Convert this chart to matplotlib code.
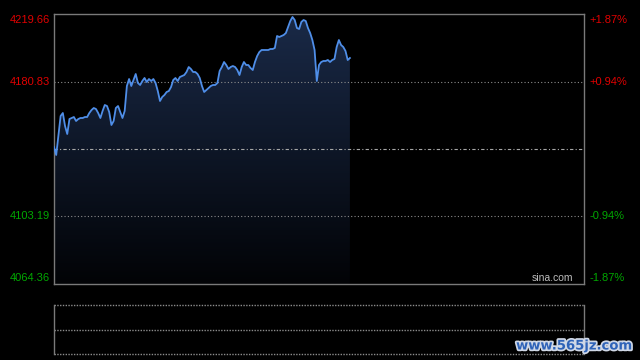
"""Intraday index chart in the Sina minute-chart style (dark theme)."""

from __future__ import annotations

import numpy as np
from matplotlib import pyplot as plt
from matplotlib import patheffects
from matplotlib.colors import LinearSegmentedColormap
from matplotlib.patches import Polygon

plt.rcParams["font.family"] = ["Liberation Sans", "DejaVu Sans"]

# --- data -----------------------------------------------------------------
prev_close = 4142.01
price_ticks = [4219.66, 4180.83, 4103.19, 4064.36]
pct_labels = ["+1.87%", "+0.94%", "-0.94%", "-1.87%"]
session_minutes = 240

prices = [
    4143.16, 4138.56, 4150.06, 4160.99, 4162.72, 4155.24, 4150.64, 4159.26, 4159.84, 4160.41,
    4158.11, 4159.26, 4159.84, 4159.84, 4160.41, 4160.41, 4162.72, 4164.44, 4165.59, 4165.02,
    4162.72, 4159.84, 4163.87, 4167.32, 4166.74, 4163.29, 4155.81, 4158.11, 4165.59, 4166.74,
    4163.29, 4159.84, 4163.87, 4178.25, 4182.27, 4178.25, 4181.70, 4185.15, 4179.97, 4178.82,
    4181.12, 4182.85, 4180.55, 4182.27, 4181.12, 4182.27, 4179.97, 4175.37, 4169.62, 4171.92,
    4173.07, 4174.79, 4175.37, 4177.67, 4181.70, 4182.85, 4181.12, 4183.42, 4184.00, 4184.57,
    4186.30, 4189.17, 4188.02, 4186.30, 4186.30, 4185.15, 4182.85, 4178.25, 4174.79, 4175.94,
    4177.10, 4178.25, 4178.82, 4178.82, 4179.97, 4186.87, 4189.17, 4192.05, 4190.32, 4188.02,
    4189.17, 4189.75, 4189.17, 4187.45, 4184.57, 4189.17, 4192.05, 4190.32, 4190.32, 4188.60,
    4187.45, 4192.05, 4195.50, 4197.80, 4198.95, 4198.95, 4198.95, 4198.95, 4199.53, 4199.53,
    4200.10, 4207.01, 4206.43, 4207.01, 4207.58, 4208.73, 4212.18, 4215.63, 4217.93, 4216.21,
    4211.61, 4211.03, 4215.06, 4216.21, 4215.63, 4211.61, 4208.73, 4204.70, 4198.95, 4181.12,
    4190.32, 4192.05, 4192.63, 4192.63, 4193.20, 4192.05, 4193.20, 4193.78, 4200.68, 4204.70,
    4201.83, 4200.68, 4198.38, 4193.20, 4194.35,
]

RED = "#e00000"
GREEN = "#00a800"
FRAME = "#7a7a7a"
GRID = "#8c8c8c"


def _style_frame(ax: plt.Axes) -> None:
    ax.set_facecolor("black")
    for sp in ax.spines.values():
        sp.set_color(FRAME)
        sp.set_linewidth(1.0)
    ax.set_xticks([])
    ax.set_yticks([])


def render(out_path: str = "out.png") -> None:
    fig = plt.figure(figsize=(6.4, 3.6), dpi=100, facecolor="black")
    ax = fig.add_axes([54 / 640, 1 - 284 / 360, 530 / 640, 270 / 360])
    vol = fig.add_axes([54 / 640, 1 - 354 / 360, 530 / 640, 49 / 360])

    ymin, ymax = price_ticks[-1], price_ticks[0]
    minutes = np.arange(len(prices))
    y = np.asarray(prices)

    _style_frame(ax)
    ax.set_xlim(0, session_minutes)
    ax.set_ylim(ymin, ymax)

    # gradient fill under the price line
    verts = np.vstack([[minutes[0], ymin], np.column_stack([minutes, y]), [minutes[-1], ymin]])
    poly = Polygon(verts, closed=True, facecolor="none", edgecolor="none")
    ax.add_patch(poly)
    cmap = LinearSegmentedColormap.from_list("fill", ["#020306", "#1a2a48"])
    grad = np.linspace(1, 0, 256).reshape(-1, 1)
    im = ax.imshow(grad, extent=[minutes[0], minutes[-1], ymin, ymax], aspect="auto",
                   cmap=cmap, origin="upper", zorder=1, interpolation="bilinear")
    im.set_clip_path(poly)

    # reference lines
    for p in (price_ticks[1], price_ticks[2]):
        ax.axhline(p, color=GRID, lw=0.8, ls=(0, (1, 2)), zorder=2)
    ax.axhline(prev_close, color="#a8a8a8", lw=0.8, ls=(0, (3, 2, 1, 2)), zorder=2)

    ax.plot(minutes, y, color="#4f8ee8", lw=1.3, zorder=3)

    # axis labels: left prices, right percent change
    offsets = [-6, 0, 0, 6]
    for p, pct, dy in zip(price_ticks, pct_labels, offsets):
        col = RED if p > prev_close else GREEN
        ax.annotate(f"{p:.2f}", xy=(0, p), xycoords=("axes fraction", "data"),
                    xytext=(-3, dy * 0.72), textcoords="offset points",
                    ha="right", va="center", color=col, fontsize=8)
        ax.annotate(pct, xy=(1, p), xycoords=("axes fraction", "data"),
                    xytext=(4, dy * 0.72), textcoords="offset points",
                    ha="left", va="center", color=col, fontsize=8)

    ax.text(0.98, 0.005, "sina.com", transform=ax.transAxes, ha="right", va="bottom",
            color="#bdbdbd", fontsize=7.5)

    # empty volume panel
    _style_frame(vol)
    vol.set_xlim(0, session_minutes)
    vol.set_ylim(0, 2)
    vol.spines["top"].set_visible(False)
    vol.spines["bottom"].set_visible(False)
    for lvl in (0, 1, 2):
        vol.axhline(lvl, color=GRID, lw=1.0, ls=(0, (1, 1)), clip_on=False)

    fig.text(574.5 / 640, 1 - 346 / 360, "www.565jz.com", ha="center", va="center",
             fontsize=9.5, fontweight="bold", color="#2f63b8", family="DejaVu Sans",
             path_effects=[patheffects.Stroke(linewidth=2.5, foreground="#d0d8e6"),
                           patheffects.Normal()])

    fig.savefig(out_path, dpi=100, facecolor="black")
    plt.close(fig)


if __name__ == "__main__":
    render()
